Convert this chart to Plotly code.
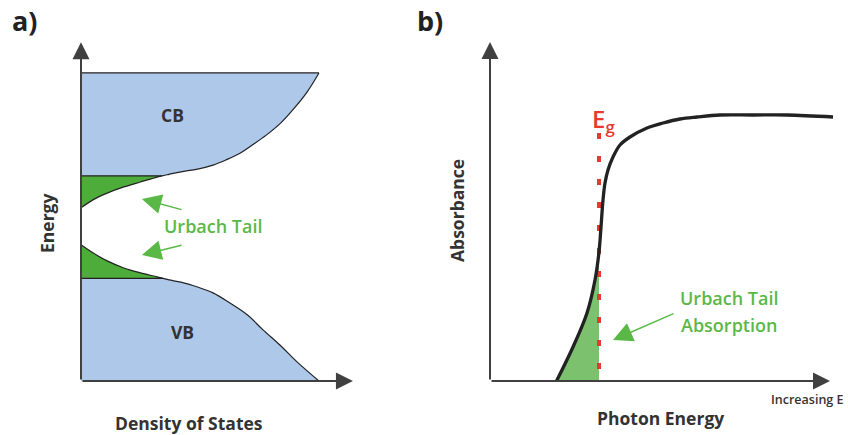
import plotly.graph_objects as go

# ---------------- Panel a: density of states ----------------
cb_dos = [0, 0.05, 0.11, 0.18, 0.25, 0.32, 0.34, 0.37, 0.42, 0.49, 0.555, 0.61, 0.67, 0.72, 0.78, 0.84, 0.89, 0.95, 1.0]
cb_energy = [5.62, 5.88, 6.10, 6.30, 6.46, 6.62, 6.66, 6.71, 6.79, 6.88, 7.01, 7.18, 7.40, 7.66, 7.99, 8.38, 8.80, 9.38, 10.0]
vb_dos = [0, 0.05, 0.11, 0.18, 0.25, 0.32, 0.345, 0.37, 0.42, 0.49, 0.555, 0.626, 0.70, 0.765, 0.836, 0.908, 1.0]
vb_energy = [4.42, 4.16, 3.90, 3.67, 3.51, 3.38, 3.33, 3.28, 3.21, 3.05, 2.86, 2.53, 2.14, 1.66, 1.17, 0.62, 0.0]
cb_edge = 6.66
vb_edge = 3.33
cb_top = 10.0
cb_join = 6  # index where the tail meets the band edge
vb_join = 6

# ---------------- Panel b: absorbance ----------------
photon_energy = [0.665, 0.83, 0.97, 1.05, 1.09, 1.11, 1.13, 1.15, 1.18, 1.23, 1.30, 1.40, 1.57, 1.73, 1.90, 2.07, 2.30, 2.63, 2.97, 3.43]
absorbance = [0.0, 0.34, 0.68, 1.01, 1.29, 1.54, 1.81, 1.98, 2.11, 2.24, 2.36, 2.44, 2.53, 2.58, 2.62, 2.64, 2.66, 2.66, 2.66, 2.64]
eg = 1.09
eg_top = 2.48
tail_n = 5

BLUE = "#aec8e9"
DKGREEN = "#4dac3a"
LTGREEN = "#7cc26e"
TXTGREEN = "#5ab946"
RED = "#e53a30"
AXIS = "#404040"
LINE = "#222222"
FONT = "Open Sans"

W, H = 848, 435
def px(x):
    return x / W
def py(y):
    return 1 - y / H

fig = go.Figure()
A = dict(xaxis="x", yaxis="y")
B = dict(xaxis="x2", yaxis="y2")
sp = dict(shape="spline", smoothing=1.0)

# CB blue band
fig.add_trace(go.Scatter(x=[0] + cb_dos[cb_join:], y=[cb_edge] + cb_energy[cb_join:], mode="lines",
                         line=dict(width=0, **sp), hoverinfo="skip", **A))
fig.add_trace(go.Scatter(x=[0, 1], y=[cb_top, cb_top], mode="lines", fill="tonexty",
                         fillcolor=BLUE, line=dict(width=0), hoverinfo="skip", **A))
# CB tail green
fig.add_trace(go.Scatter(x=cb_dos[:cb_join + 1], y=[cb_edge] * (cb_join + 1), mode="lines",
                         line=dict(width=0), hoverinfo="skip", **A))
fig.add_trace(go.Scatter(x=cb_dos[:cb_join + 1], y=cb_energy[:cb_join + 1], mode="lines", fill="tonexty",
                         fillcolor=DKGREEN, line=dict(width=0, **sp), hoverinfo="skip", **A))
# VB blue band
fig.add_trace(go.Scatter(x=[0] + vb_dos[vb_join:], y=[vb_edge] + vb_energy[vb_join:], mode="lines",
                         fill="tozeroy", fillcolor=BLUE, line=dict(width=0, **sp), hoverinfo="skip", **A))
# VB tail green
fig.add_trace(go.Scatter(x=vb_dos[:vb_join + 1], y=[vb_edge] * (vb_join + 1), mode="lines",
                         line=dict(width=0), hoverinfo="skip", **A))
fig.add_trace(go.Scatter(x=vb_dos[:vb_join + 1], y=vb_energy[:vb_join + 1], mode="lines", fill="tonexty",
                         fillcolor=DKGREEN, line=dict(width=0, **sp), hoverinfo="skip", **A))
# outlines
for xs, ys, shp in [
    (cb_dos, cb_energy, sp), (vb_dos, vb_energy, sp),
    ([0, cb_dos[cb_join]], [cb_edge, cb_edge], {}),
    ([0, vb_dos[vb_join]], [vb_edge, vb_edge], {}),
    ([0, 1], [cb_top, cb_top], {}),
]:
    fig.add_trace(go.Scatter(x=xs, y=ys, mode="lines", line=dict(color=LINE, width=1.2, **shp),
                             hoverinfo="skip", **A))

# Panel b: green tail fill
fig.add_trace(go.Scatter(x=photon_energy[:tail_n], y=absorbance[:tail_n], mode="lines",
                         fill="tozeroy", fillcolor=LTGREEN, line=dict(width=0, **sp),
                         hoverinfo="skip", **B))
# Eg dashed line (drawn from the top down)
fig.add_trace(go.Scatter(x=[eg, eg], y=[eg_top, 0], mode="lines",
                         line=dict(color=RED, width=4, dash="6px,17px"), hoverinfo="skip", **B))
# absorbance curve
fig.add_trace(go.Scatter(x=photon_energy, y=absorbance, mode="lines",
                         line=dict(color=LINE, width=3.3, **sp), hoverinfo="skip", **B))

ann = []
def arrow(x, y, ax, ay, xr, yr, color, width, head, size):
    ann.append(dict(x=x, y=y, ax=ax, ay=ay, xref=xr, yref=yr, axref=xr, ayref=yr,
                    showarrow=True, arrowhead=head, arrowsize=size, arrowwidth=width,
                    arrowcolor=color, text="", standoff=0, startstandoff=0))

# axis arrows
arrow(0, 11.0, 0, 0, "x", "y", AXIS, 2, 2, 1.7)
arrow(1.143, 0, 0, 0, "x", "y", AXIS, 2, 2, 1.7)
arrow(0, 3.39, 0, 0, "x2", "y2", AXIS, 2, 2, 1.7)
arrow(3.40, 0, 0, 0, "x2", "y2", AXIS, 2, 2, 1.7)
# green pointer arrows
arrow(0.256, 5.91, 0.429, 5.55, "x", "y", TXTGREEN, 1.5, 2, 2.6)
arrow(0.256, 4.09, 0.429, 4.42, "x", "y", TXTGREEN, 1.5, 2, 2.6)
arrow(1.23, 0.41, 1.85, 0.68, "x2", "y2", TXTGREEN, 1.5, 2, 2.6)

def text(t, x, y, size, color, bold=True, angle=0, xanchor="center", yanchor="middle"):
    ann.append(dict(text=t, x=px(x), y=py(y), xref="paper", yref="paper", showarrow=False,
                    textangle=angle, xanchor=xanchor, yanchor=yanchor,
                    font=dict(family=FONT, size=size, color=color, weight=700 if bold else 600)))

text("a)", 24, 21, 27, "#222222")
text("b)", 430, 21, 27, "#222222")
text("CB", 172, 115, 17.5, "#333333")
text("VB", 182, 332, 17.5, "#333333")
text("Urbach Tail", 213, 226, 18, TXTGREEN, bold=False)
text("Energy", 47, 224, 17.5, "#333333", angle=-90)
text("Density of States", 189, 423, 17.5, "#333333")
text("Absorbance", 457, 210, 17.5, "#333333", angle=-90)
text("Photon Energy", 660, 418, 17.5, "#333333")
text("Urbach Tail", 729, 298, 18, TXTGREEN, bold=False)
text("Absorption", 729, 325, 18, TXTGREEN, bold=False)
text("Increasing E", 845, 399, 12.5, "#333333", bold=False, xanchor="right")
text("E<sub>g</sub>", 590, 120, 24, RED, bold=False, xanchor="left")

ax_common = dict(visible=False, showgrid=False, zeroline=False, fixedrange=True)
fig.update_layout(
    width=W, height=H, margin=dict(l=0, r=0, t=0, b=0),
    paper_bgcolor="white", plot_bgcolor="white", showlegend=False,
    xaxis=dict(domain=[px(81), px(357)], range=[0, 1.16], **ax_common),
    yaxis=dict(domain=[py(381), py(36)], range=[0, 11.2], **ax_common),
    xaxis2=dict(domain=[px(490), px(835)], range=[0, 3.45], **ax_common),
    yaxis2=dict(domain=[py(381), py(36)], range=[0, 3.45], **ax_common),
    annotations=ann,
)
fig.write_html("out.html")
